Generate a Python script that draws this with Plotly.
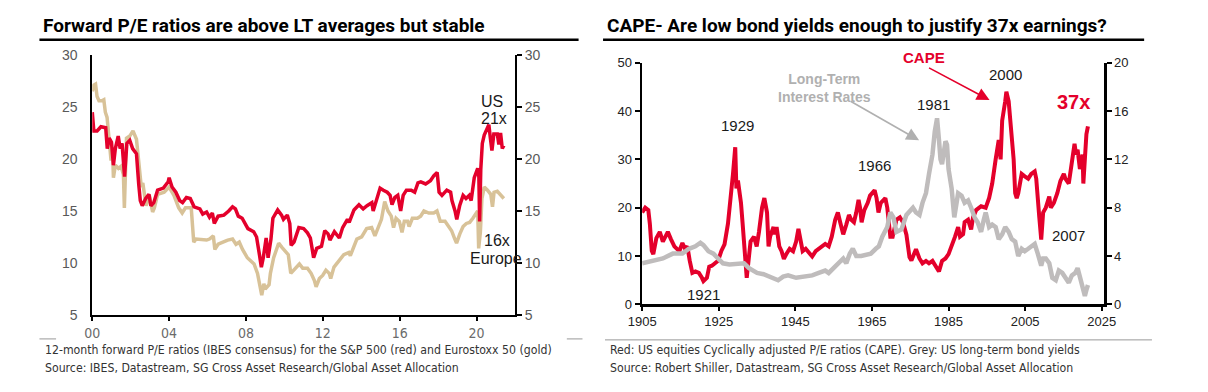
import plotly.graph_objects as go

# ---------------- Data: left chart (12m forward P/E) ----------------
sp_years = [2000.00, 2000.08, 2000.25, 2000.45, 2000.70, 2000.78, 2000.88, 2001.00, 2001.10, 2001.20,
            2001.35, 2001.45, 2001.55, 2001.68, 2001.80, 2001.95, 2002.10, 2002.30, 2002.42, 2002.50,
            2002.60, 2002.78, 2002.95, 2003.05, 2003.20, 2003.40, 2003.70, 2003.95, 2004.00, 2004.15,
            2004.35, 2004.55, 2004.70, 2004.90, 2005.10, 2005.30, 2005.60, 2005.75, 2005.95, 2006.10,
            2006.25, 2006.35, 2006.55, 2006.85, 2007.10, 2007.30, 2007.45, 2007.60, 2007.80, 2007.95,
            2008.10, 2008.40, 2008.55, 2008.70, 2008.80, 2008.90, 2009.00, 2009.05, 2009.15, 2009.30,
            2009.40, 2009.65, 2009.85, 2009.95, 2010.15, 2010.28, 2010.35, 2010.50, 2010.75, 2011.00,
            2011.20, 2011.35, 2011.52, 2011.68, 2011.93, 2012.10, 2012.27, 2012.37, 2012.60, 2012.86,
            2013.03, 2013.28, 2013.37, 2013.62, 2013.88, 2014.10, 2014.30, 2014.55, 2014.62, 2014.80,
            2014.98, 2015.15, 2015.35, 2015.50, 2015.60, 2015.75, 2015.90, 2016.05, 2016.18, 2016.35,
            2016.60, 2016.78, 2016.95, 2017.10, 2017.35, 2017.60, 2017.78, 2017.95, 2018.05, 2018.20,
            2018.45, 2018.65, 2018.72, 2018.88, 2018.97, 2019.12, 2019.30, 2019.45, 2019.62, 2019.72,
            2019.88, 2020.06, 2020.12, 2020.16, 2020.22, 2020.30, 2020.40, 2020.57, 2020.64, 2020.72,
            2020.80, 2020.90, 2021.08, 2021.16, 2021.25, 2021.34, 2021.42]
sp_pe = [24.5, 22.7, 22.7, 23.1, 23.0, 21.0, 22.0, 21.6, 19.4, 21.0,
         22.2, 21.0, 21.5, 18.3, 21.5, 21.8, 21.0, 20.5, 17.5, 16.0,
         15.5, 16.2, 16.6, 15.5, 15.8, 17.0, 17.2, 17.8, 18.2, 17.3,
         16.8, 16.0, 15.8, 16.3, 16.2, 15.4, 15.2, 14.7, 14.9, 14.4,
         14.8, 13.8, 14.5, 14.6, 15.0, 15.4, 15.2, 14.5, 14.3, 13.8,
         13.3, 13.0, 12.5, 10.8, 9.6, 10.5, 11.7, 12.4, 10.5, 12.3,
         14.3, 15.1, 14.6, 14.2, 14.6, 13.8, 11.7, 12.0, 13.4, 13.3,
         12.9, 12.4, 10.5, 11.4, 11.6, 13.1, 12.8, 12.2, 13.0, 12.4,
         13.4, 14.2, 13.9, 15.1, 15.6, 15.2, 15.5, 15.8, 15.0, 16.2,
         17.2, 17.0, 16.8, 16.5, 15.6, 16.3, 16.5, 15.0, 16.5, 17.0,
         17.0, 16.8, 17.7, 17.8, 17.6, 17.9, 18.4, 18.7, 16.8, 16.5,
         17.0, 16.8, 16.0, 15.0, 14.2, 15.5, 16.5, 16.2, 16.5, 16.0,
         18.2, 19.1, 18.3, 14.0, 19.0, 21.5, 22.3, 23.0, 23.3, 22.0,
         20.8, 22.4, 22.4, 21.4, 22.5, 21.0, 21.3]

sx5e_years = [2000.00, 2000.08, 2000.17, 2000.25, 2000.35, 2000.50, 2000.60, 2000.68, 2000.77, 2000.85,
              2000.90, 2000.97, 2001.07, 2001.10, 2001.20, 2001.36, 2001.50, 2001.62, 2001.67, 2001.73,
              2001.78, 2001.95, 2002.12, 2002.30, 2002.38, 2002.47, 2002.55, 2002.63, 2002.72, 2002.80,
              2002.97, 2003.14, 2003.23, 2003.40, 2003.74, 2004.00, 2004.25, 2004.50, 2004.68, 2004.85,
              2005.15, 2005.28, 2005.40, 2005.95, 2006.10, 2006.30, 2006.38, 2006.55, 2006.80, 2007.05,
              2007.30, 2007.48, 2007.65, 2007.82, 2008.07, 2008.25, 2008.42, 2008.60, 2008.77, 2008.82,
              2008.93, 2009.00, 2009.20, 2009.27, 2009.44, 2009.70, 2009.87, 2010.03, 2010.20, 2010.33,
              2010.53, 2010.78, 2010.95, 2011.20, 2011.39, 2011.56, 2011.65, 2011.82, 2011.99, 2012.16,
              2012.33, 2012.41, 2012.58, 2012.84, 2013.09, 2013.35, 2013.43, 2013.77, 2014.02, 2014.28,
              2014.54, 2014.71, 2014.88, 2015.05, 2015.22, 2015.39, 2015.56, 2015.68, 2015.81, 2015.98,
              2016.12, 2016.24, 2016.41, 2016.49, 2016.66, 2016.92, 2017.09, 2017.26, 2017.51, 2017.77,
              2017.94, 2018.11, 2018.36, 2018.53, 2018.70, 2018.87, 2018.96, 2019.13, 2019.30, 2019.47,
              2019.64, 2019.81, 2019.98, 2020.06, 2020.11, 2020.20, 2020.28, 2020.40, 2020.57, 2020.74,
              2020.83, 2020.91, 2021.08, 2021.25, 2021.42]
sx5e_pe = [26.5, 27.1, 27.2, 26.0, 25.6, 25.6, 25.7, 24.5, 24.0, 22.5,
           21.0, 20.0, 20.0, 18.2, 19.4, 19.1, 19.3, 18.5, 15.3, 19.0,
           22.0, 22.2, 22.7, 21.9, 20.5, 18.2, 17.3, 17.7, 16.3, 15.5,
           16.5, 14.9, 15.3, 16.6, 16.8, 17.3, 16.5, 15.3, 14.8, 15.3,
           15.3, 12.0, 12.3, 12.2, 12.3, 12.6, 11.3, 11.8, 12.0, 12.2,
           12.3, 11.8, 12.0, 11.3, 10.5, 10.2, 9.9, 9.0, 7.4, 6.9,
           8.0, 7.5, 7.9, 9.0, 10.5, 11.9, 11.5, 11.1, 10.8, 9.0,
           9.4, 9.9, 9.5, 9.5, 9.0, 8.3, 7.7, 8.5, 8.8, 9.3,
           9.0, 8.5, 9.6, 10.2, 10.8, 11.0, 10.7, 12.3, 12.5, 13.3,
           13.4, 12.6, 13.3, 14.2, 15.9, 15.0, 14.5, 13.4, 14.3, 14.0,
           12.95, 14.0, 14.0, 13.5, 14.3, 14.3, 14.5, 15.0, 14.8, 14.8,
           15.0, 14.0, 14.0, 13.5, 13.1, 12.3, 11.9, 12.8, 13.5, 13.8,
           13.9, 14.3, 14.8, 15.0, 11.4, 13.0, 16.2, 17.3, 17.0, 16.6,
           15.4, 16.8, 16.9, 16.5, 16.2]

left_ticks = [2000, 2004, 2008, 2012, 2016, 2020]
left_ticktext = ["00", "04", "08", "12", "16", "20"]

# ---------------- Data: right chart (CAPE vs long-term yields) ----------------
cape_years = [1905.0, 1905.8, 1906.6, 1907.0, 1907.5, 1907.9, 1908.7, 1909.6, 1910.4, 1911.3,
              1911.7, 1912.5, 1913.4, 1914.7, 1915.5, 1916.2, 1916.8, 1917.4, 1918.1, 1918.9,
              1919.8, 1920.6, 1921.0, 1921.9, 1922.5, 1923.2, 1924.0, 1924.8, 1925.7, 1926.5,
              1927.4, 1928.2, 1928.7, 1929.3, 1929.6, 1930.0, 1930.8, 1931.2, 1931.6, 1932.1,
              1932.3, 1932.9, 1933.3, 1934.2, 1934.9, 1935.5, 1936.3, 1936.9, 1937.6, 1938.0,
              1938.4, 1939.3, 1939.7, 1940.1, 1940.8, 1941.4, 1942.0, 1942.7, 1943.5, 1944.4,
              1945.2, 1945.8, 1946.2, 1946.9, 1947.7, 1948.6, 1949.4, 1950.3, 1951.1, 1952.0,
              1952.8, 1953.7, 1954.5, 1955.4, 1956.1, 1956.7, 1957.5, 1958.3, 1959.0, 1959.6,
              1960.3, 1960.9, 1961.5, 1961.9, 1962.3, 1963.0, 1963.9, 1964.5, 1965.1, 1965.7,
              1966.2, 1966.7, 1967.3, 1967.9, 1968.5, 1969.0, 1969.4, 1969.8, 1970.4, 1971.4,
              1972.3, 1973.1, 1974.0, 1974.8, 1975.3, 1975.7, 1976.5, 1977.4, 1978.2, 1979.1,
              1979.9, 1980.8, 1981.6, 1982.5, 1983.3, 1984.2, 1985.0, 1985.8, 1986.7, 1987.5,
              1988.0, 1988.8, 1989.2, 1990.1, 1990.9, 1991.4, 1992.2, 1993.5, 1994.7, 1995.6,
              1996.4, 1997.3, 1998.1, 1998.6, 1999.0, 1999.8, 2000.1, 2000.7, 2001.1, 2001.5,
              2002.0, 2002.4, 2002.8, 2003.2, 2004.1, 2004.9, 2005.8, 2006.6, 2007.5, 2007.9,
              2008.3, 2008.7, 2009.2, 2009.7, 2010.4, 2011.3, 2011.7, 2012.5, 2013.4, 2014.2,
              2015.1, 2015.5, 2016.4, 2017.2, 2017.9, 2018.3, 2018.7, 2019.3, 2019.7, 2020.0,
              2020.2, 2020.6, 2021.0, 2021.4]
cape = [19.0, 20.0, 19.5, 16.7, 11.1, 10.4, 13.7, 15.0, 13.0, 14.5,
        15.0, 13.5, 12.0, 11.0, 12.7, 11.5, 12.0, 9.1, 6.5, 6.8,
        6.5, 5.5, 4.8, 5.5, 7.8, 8.0, 8.4, 9.0, 11.1, 12.4,
        16.7, 22.0, 26.9, 32.5, 24.0, 25.6, 21.0, 17.0, 13.0, 9.0,
        5.5, 10.0, 13.0, 14.0, 12.0, 15.0, 20.0, 22.0, 19.0, 12.0,
        14.0, 16.0, 14.5, 16.0, 12.0, 11.0, 9.4, 10.5, 11.5, 11.0,
        13.0, 15.6, 13.5, 11.0, 11.5, 10.5, 9.9, 11.0, 11.5, 12.0,
        12.5, 12.0, 14.0, 17.5, 19.0, 17.0, 14.5, 16.5, 18.5, 17.5,
        17.0, 19.0, 21.6, 20.0, 17.0, 19.5, 21.0, 22.5, 23.0, 23.6,
        22.0, 19.0, 21.0, 21.5, 22.0, 20.0, 16.0, 14.0, 14.0, 17.5,
        18.0, 17.0, 14.4, 9.8, 9.1, 10.0, 11.4, 9.5, 8.5, 9.0,
        8.5, 9.0, 7.8, 6.8, 9.0, 9.5, 10.4, 12.0, 14.0, 16.0,
        14.0, 14.5, 17.0, 17.5, 15.5, 18.0, 19.5, 20.3, 20.0, 22.0,
        25.0, 30.0, 34.0, 30.0, 38.0, 42.0, 44.0, 42.0, 38.0, 33.0,
        30.0, 23.0, 22.0, 23.0, 27.0, 26.5, 26.0, 27.0, 27.5, 26.0,
        21.0, 18.0, 13.4, 19.0, 20.0, 22.3, 20.0, 21.0, 23.0, 25.5,
        27.0, 26.0, 25.0, 29.0, 33.2, 31.0, 32.0, 28.0, 30.0, 31.0,
        25.0, 30.0, 35.2, 36.8]

yield_years = [1905.0, 1907.9, 1910.4, 1913.0, 1915.5, 1917.2, 1918.9, 1920.2, 1921.0, 1922.3,
               1923.6, 1924.8, 1926.1, 1927.8, 1929.9, 1931.6, 1932.9, 1935.0, 1936.7, 1938.4,
               1940.5, 1941.8, 1943.1, 1945.2, 1947.3, 1949.4, 1951.1, 1952.8, 1953.7, 1954.9,
               1956.7, 1957.5, 1958.3, 1959.2, 1960.0, 1960.9, 1962.2, 1963.4, 1964.7, 1966.0,
               1966.8, 1967.7, 1969.0, 1969.8, 1970.6, 1971.4, 1972.7, 1974.0, 1975.7, 1976.5,
               1977.4, 1978.2, 1979.1, 1979.9, 1980.8, 1981.4, 1982.0, 1982.5, 1982.9, 1983.3,
               1984.2, 1984.6, 1985.0, 1985.8, 1986.5, 1987.5, 1988.4, 1989.2, 1990.1, 1990.9,
               1991.8, 1992.6, 1993.5, 1994.2, 1994.7, 1995.6, 1996.4, 1997.3, 1998.1, 1999.0,
               1999.8, 2000.7, 2001.5, 2002.4, 2003.2, 2004.1, 2004.9, 2005.8, 2006.6, 2007.5,
               2008.3, 2009.2, 2009.7, 2010.4, 2011.3, 2012.1, 2013.0, 2013.8, 2014.7, 2015.5,
               2016.4, 2017.2, 2018.1, 2018.7, 2019.3, 2019.9, 2020.2, 2020.6, 2021.0, 2021.4]
yields = [3.4, 3.6, 3.8, 4.2, 4.2, 4.6, 4.8, 5.1, 4.9, 4.4,
          4.2, 3.8, 3.4, 3.3, 3.4, 3.4, 3.0, 2.6, 2.5, 2.3,
          2.0, 2.3, 2.4, 2.2, 2.3, 2.4, 2.6, 2.8, 2.6, 3.0,
          3.6, 3.8, 3.4, 4.2, 4.6, 4.0, 4.0, 4.1, 4.2, 4.6,
          4.8, 5.6, 6.4, 7.6, 7.2, 6.0, 6.2, 7.4, 8.0, 7.6,
          7.4, 8.4, 9.2, 10.8, 12.4, 14.3, 15.4, 13.6, 12.0, 11.6,
          13.5, 13.2, 11.2, 9.6, 7.2, 9.2, 9.0, 8.4, 8.6, 8.0,
          7.2, 6.8, 6.0, 7.0, 7.6, 6.4, 6.6, 6.4, 5.4, 5.8,
          6.4, 6.0, 5.4, 5.2, 4.0, 4.6, 4.4, 4.6, 4.8, 5.0,
          4.2, 3.2, 3.8, 3.8, 3.4, 2.2, 2.0, 2.8, 2.6, 2.2,
          1.8, 2.4, 2.6, 3.0, 2.2, 1.8, 1.0, 0.7, 1.2, 1.6]

right_ticks = [1905, 1925, 1945, 1965, 1985, 2005, 2025]

# ---------------- Styling ----------------
RED = "#e4002b"
GOLD = "#d8c298"
GREY = "#bfbcbc"
TICK_GREY = "#595959"
ARIAL = "Liberation Sans, Arial, sans-serif"
NARROW = "DejaVu Sans Condensed, Arial Narrow, sans-serif"
TITLE_FONT = "Roboto, sans-serif"

W, H = 1208, 392
def px(x):
    return x / W
def py(y):
    return 1 - y / H

fig = go.Figure()
fig.add_trace(go.Scatter(x=sx5e_years, y=sx5e_pe, xaxis="x", yaxis="y", mode="lines",
                         line=dict(color=GOLD, width=3.5), name="Eurostoxx 50"))
fig.add_trace(go.Scatter(x=sp_years, y=sp_pe, xaxis="x", yaxis="y2", mode="lines",
                         line=dict(color=RED, width=3.5), name="S&P 500"))
fig.add_trace(go.Scatter(x=cape_years, y=cape, xaxis="x2", yaxis="y3", mode="lines",
                         line=dict(color=RED, width=4), name="CAPE"))
fig.add_trace(go.Scatter(x=yield_years, y=yields, xaxis="x2", yaxis="y4", mode="lines",
                         line=dict(color=GREY, width=4.5), name="Long-term rates"))

axis_common = dict(showline=True, linecolor="black", showgrid=False, zeroline=False,
                   tickcolor="black", fixedrange=True)

fig.update_layout(
    width=W, height=H, margin=dict(l=0, r=0, t=0, b=0),
    paper_bgcolor="white", plot_bgcolor="white", showlegend=False,
    xaxis=dict(domain=[px(80), px(512)], range=[2000, 2022], anchor="y",
               tickvals=left_ticks, ticktext=left_ticktext, ticks="outside", ticklen=4,
               linewidth=2, tickwidth=2,
               tickfont=dict(family=NARROW, size=14, color="#6b6b6b"), **axis_common),
    yaxis=dict(domain=[py(320), py(49)], range=[5, 30], dtick=5, anchor="x",
               ticks="", ticklabelstandoff=10, linewidth=2,
               tickfont=dict(family=ARIAL, size=14, color=TICK_GREY), **axis_common),
    yaxis2=dict(overlaying="y", side="right", range=[5, 30], dtick=5, anchor="x",
                ticks="outside", ticklen=5, linewidth=2, tickwidth=2,
                tickfont=dict(family=ARIAL, size=14, color=TICK_GREY), **axis_common),
    xaxis2=dict(domain=[px(642), px(1114)], range=[1905, 2025.6], anchor="y3",
                tickvals=right_ticks, ticks="outside", ticklen=4, linewidth=2.5, tickwidth=2,
                tickfont=dict(family=ARIAL, size=13, color="#222222"), **axis_common),
    yaxis3=dict(domain=[py(309), py(57)], range=[0, 50], dtick=10, anchor="x2",
                ticks="outside", ticklen=5, linewidth=2.5, tickwidth=2,
                tickfont=dict(family=ARIAL, size=13, color="#222222"), **axis_common),
    yaxis4=dict(overlaying="y3", side="right", range=[0, 20], dtick=4, anchor="x2",
                ticks="outside", ticklen=5, linewidth=2.5, tickwidth=2,
                tickfont=dict(family=ARIAL, size=13, color="#222222"), **axis_common),
)

ann = []
def text(x, y, s, size=15, color="#1a1a1a", bold=False, xanchor="center", family=ARIAL):
    if bold:
        s = "<b>" + s + "</b>"
    ann.append(dict(x=px(x), y=py(y), xref="paper", yref="paper", text=s, showarrow=False,
                    xanchor=xanchor, yanchor="middle",
                    font=dict(family=family, size=size, color=color)))

# titles
text(28, 18, "Forward P/E ratios are above LT averages but stable", size=19, color="black",
     bold=True, xanchor="left", family=TITLE_FONT)
text(604, 18, "CAPE- Are low bond yields enough to justify 37x earnings?", size=19, color="black",
     bold=True, xanchor="left", family=TITLE_FONT)

# left chart labels
text(489, 97, "US", size=16)
text(491, 115, "21x", size=16)
text(494, 242, "16x", size=16)
text(493, 261, "Europe", size=16)

# right chart labels
text(739, 123, "1929")
text(879, 164, "1966")
text(705, 299, "1921")
text(940, 101, "1981")
text(1013, 69, "2000")
text(1078, 237, "2007")
text(930, 52, "CAPE", size=15, color=RED, bold=True)
text(1083, 98, "37x", size=20, color=RED, bold=True)
ann.append(dict(x=px(828), y=py(83), xref="paper", yref="paper",
                text="<b>Long-Term<br>Interest Rates</b>", showarrow=False,
                xanchor="center", yanchor="middle", align="center",
                font=dict(family=ARIAL, size=14, color="#b0b0b0")))

# arrows
ann.append(dict(x=px(997), y=py(96), xref="paper", yref="paper", text="", showarrow=True,
                ax=-62, ay=-33, arrowhead=2, arrowsize=1.6, arrowwidth=1.6, arrowcolor=RED))
ann.append(dict(x=px(925), y=py(138), xref="paper", yref="paper", text="", showarrow=True,
                ax=-70, ay=-40, arrowhead=2, arrowsize=1.6, arrowwidth=1.6, arrowcolor="#b0b0b0"))

# captions
CAP = dict(size=12.2, color="#333333", family=NARROW)
text(30, 357, "12-month forward P/E ratios (IBES consensus) for the S&P 500 (red) and Eurostoxx 50 (gold)",
     xanchor="left", **CAP)
text(30, 375, "Source: IBES, Datastream, SG Cross Asset Research/Global Asset Allocation",
     xanchor="left", **CAP)
text(607, 357, "Red: US equities Cyclically adjusted P/E ratios (CAPE). Grey: US long-term bond yields",
     xanchor="left", **CAP)
text(607, 375, "Source: Robert Shiller, Datastream, SG Cross Asset Research/Global Asset Allocation",
     xanchor="left", **CAP)

fig.update_layout(annotations=ann)

shapes = []
def hline(x0, x1, y, color, width):
    shapes.append(dict(type="line", xref="paper", yref="paper", x0=px(x0), x1=px(x1),
                       y0=py(y), y1=py(y), line=dict(color=color, width=width)))
hline(26, 577, 33, "black", 2.5)
hline(602, 1155, 33, "black", 2.5)
hline(26, 43, 345, "#999999", 1)
hline(565, 581, 345, "#999999", 1)
hline(604, 1163, 346, "#999999", 1)
fig.update_layout(shapes=shapes)

fig.write_html("out.html", config={"displayModeBar": False, "staticPlot": True},
               post_script="document.body.style.margin='0';")
